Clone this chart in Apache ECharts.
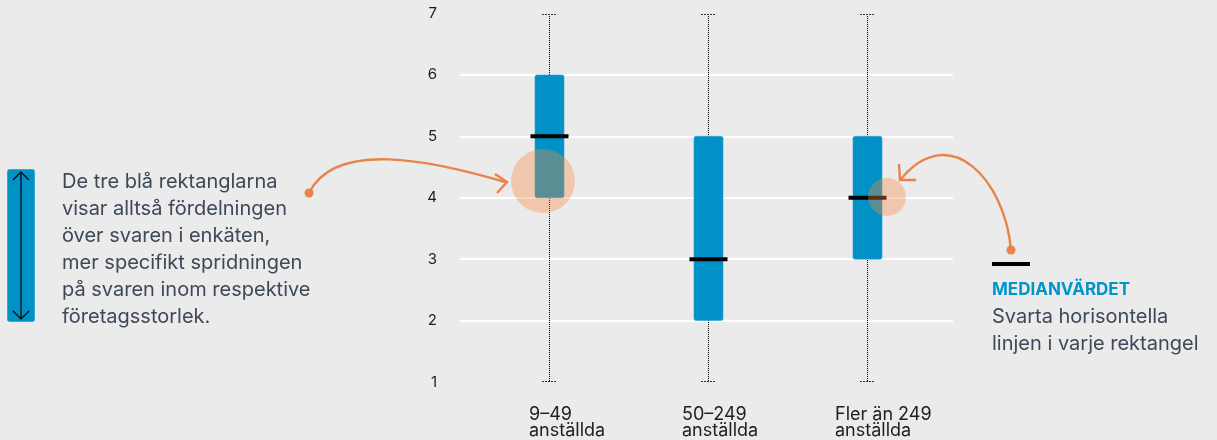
<!DOCTYPE html>
<html>
<head>
<meta charset="utf-8">
<script src="https://cdn.jsdelivr.net/npm/echarts@6/dist/echarts.min.js"></script>
<style>
  html, body { margin: 0; padding: 0; background: #ebebeb; }
  #chart { width: 1217px; height: 440px; }
</style>
</head>
<body>
<div id="chart"></div>
<script>
// ---- Data ----
const categories = ['9–49\nanställda', '50–249\nanställda', 'Fler än 249\nanställda'];
const minVals    = [1, 1, 1];
const q1Vals     = [4, 2, 3];
const medianVals = [5, 3, 4];
const q3Vals     = [6, 5, 5];
const maxVals    = [7, 7, 7];
const yTicks     = [1, 2, 3, 4, 5, 6, 7];

const leftNote  = ['De tre blå rektanglarna', 'visar alltså fördelningen', 'över svaren i enkäten,', 'mer specifikt spridningen', 'på svaren inom respektive', 'företagsstorlek.'];
const rightTitle = 'MEDIANVÄRDET';
const rightNote  = ['Svarta horisontella', 'linjen i varje rektangel'];

// ---- Styles ----
const BG = '#ebebeb';
const BLUE = '#0092c6';
const ORANGE = '#e8834a';
const HILITE = 'rgba(249,135,65,0.36)';
const TEXT = '#3d4858';
const FONT = 'Inter, Roboto, "Noto Sans", sans-serif';

const boxData = categories.map((c, i) => [i, minVals[i], q1Vals[i], medianVals[i], q3Vals[i], maxVals[i]]);

const chart = echarts.init(document.getElementById('chart'), null, { renderer: 'canvas' });

const yMin = yTicks[0], yMax = yTicks[yTicks.length - 1];
const splitColors = yTicks.map(v => (v === yMin || v === yMax) ? 'rgba(0,0,0,0)' : '#ffffff');

function renderBox(params, api) {
  const idx = api.value(0);
  const pMin = api.coord([idx, api.value(1)]);
  const pQ1 = api.coord([idx, api.value(2)]);
  const pMed = api.coord([idx, api.value(3)]);
  const pQ3 = api.coord([idx, api.value(4)]);
  const pMax = api.coord([idx, api.value(5)]);
  const cx = Math.round(pMin[0]) + 0.5;
  const yTop = Math.round(pMax[1]);
  const yBot = Math.round(pMin[1]);
  const boxW = 29, medW = 38, capW = 15;
  return {
    type: 'group',
    children: [
      { type: 'line', shape: { x1: cx, y1: yTop, x2: cx, y2: yBot },
        style: { stroke: '#000', lineWidth: 1, lineDash: [1, 1] } },
      { type: 'line', shape: { x1: Math.round(cx - capW / 2), y1: yTop + 0.5, x2: Math.round(cx + capW / 2), y2: yTop + 0.5 },
        style: { stroke: '#333', lineWidth: 1, lineDash: [2, 1] } },
      { type: 'line', shape: { x1: Math.round(cx - capW / 2), y1: yBot - 0.5, x2: Math.round(cx + capW / 2), y2: yBot - 0.5 },
        style: { stroke: '#333', lineWidth: 1, lineDash: [2, 1] } },
      { type: 'rect', shape: { x: cx - boxW / 2, y: pQ3[1], width: boxW, height: pQ1[1] - pQ3[1], r: 2 },
        style: { fill: BLUE, stroke: '#2aa2cf', lineWidth: 0.6 } },
      { type: 'rect', shape: { x: cx - medW / 2, y: pMed[1] - 2, width: medW, height: 4 },
        style: { fill: '#000' } }
    ]
  };
}

const option = {
  backgroundColor: BG,
  animation: false,
  grid: [
    { left: 460, right: 264, top: 13.5, bottom: 58 },   // gridlines + y labels
    { left: 470, right: 271, top: 13.5, bottom: 58 },   // boxes
    { left: 452.5, right: 305.5, top: 13.5, bottom: 58 } // x labels
  ],
  xAxis: [
    { gridIndex: 0, type: 'value', show: false },
    { gridIndex: 1, type: 'category', data: categories, boundaryGap: true, show: false },
    { gridIndex: 2, type: 'category', data: categories, boundaryGap: true,
      axisLine: { show: false }, axisTick: { show: false },
      axisLabel: { align: 'left', margin: 29, fontSize: 18, lineHeight: 16, color: '#1e1e1e', fontFamily: FONT, interval: 0 } }
  ],
  yAxis: [
    { gridIndex: 0, type: 'value', min: yMin, max: yMax, interval: 1,
      axisLine: { show: false }, axisTick: { show: false },
      axisLabel: { margin: 23, fontSize: 15, color: '#1e1e1e', fontFamily: FONT },
      splitLine: { show: true, lineStyle: { color: splitColors, width: 2 } } },
    { gridIndex: 1, type: 'value', min: yMin, max: yMax, interval: 1, show: false, splitLine: { show: false } },
    { gridIndex: 2, type: 'value', min: yMin, max: yMax, interval: 1, show: false, splitLine: { show: false } }
  ],
  series: [
    { type: 'custom', xAxisIndex: 1, yAxisIndex: 1, data: boxData, renderItem: renderBox, z: 3, clip: false }
  ],
  graphic: [
    // left legend icon
    { type: 'rect', shape: { x: 7.5, y: 169.5, width: 27, height: 152, r: 2 }, style: { fill: BLUE, stroke: '#35a8d3', lineWidth: 1 }, z: 10 },
    { type: 'line', shape: { x1: 21, y1: 172, x2: 21, y2: 319 }, style: { stroke: '#000', lineWidth: 1.2 }, z: 11 },
    { type: 'polyline', shape: { points: [[13, 180], [21, 172], [29, 180]] }, style: { stroke: '#000', lineWidth: 1.2, fill: null }, z: 11 },
    { type: 'polyline', shape: { points: [[13, 311], [21, 319], [29, 311]] }, style: { stroke: '#000', lineWidth: 1.2, fill: null }, z: 11 },
    { type: 'text', x: 62, y: 168, style: { text: leftNote.join('\n'), font: '20px ' + FONT, fill: TEXT, lineHeight: 27, verticalAlign: 'top' }, z: 10 },
    // left annotation arrow
    { type: 'bezierCurve', shape: { x1: 309, y1: 193, cpx1: 335, cpy1: 140, cpx2: 430, cpy2: 160, x2: 505, y2: 182 },
      style: { stroke: ORANGE, lineWidth: 2.4, fill: null }, z: 20 },
    { type: 'circle', shape: { cx: 309, cy: 193, r: 4.5 }, style: { fill: ORANGE }, z: 20 },
    { type: 'polyline', shape: { points: [[495, 174], [507, 182], [497, 193]] }, style: { stroke: ORANGE, lineWidth: 2.4, fill: null }, z: 20 },
    { type: 'circle', shape: { cx: 543, cy: 181, r: 32 }, style: { fill: HILITE }, z: 20 },
    // right annotation arrow
    { type: 'bezierCurve', shape: { x1: 1011, y1: 250, cpx1: 1005, cpy1: 180, cpx2: 950, cpy2: 120, x2: 901, y2: 179 },
      style: { stroke: ORANGE, lineWidth: 2.4, fill: null }, z: 20 },
    { type: 'circle', shape: { cx: 1011, cy: 250, r: 4.5 }, style: { fill: ORANGE }, z: 20 },
    { type: 'polyline', shape: { points: [[899, 164], [900, 180], [916, 180]] }, style: { stroke: ORANGE, lineWidth: 2.4, fill: null }, z: 20 },
    { type: 'circle', shape: { cx: 887, cy: 197, r: 19 }, style: { fill: HILITE }, z: 20 },
    // median legend
    { type: 'rect', shape: { x: 992, y: 262, width: 38, height: 4 }, style: { fill: '#000' }, z: 10 },
    { type: 'text', x: 992, y: 290, style: { text: rightTitle, font: 'bold 17px ' + FONT, fill: '#0095c8', verticalAlign: 'middle' }, z: 10 },
    { type: 'text', x: 992, y: 303, style: { text: rightNote.join('\n'), font: '20px ' + FONT, fill: TEXT, lineHeight: 27, verticalAlign: 'top' }, z: 10 }
  ]
};

chart.setOption(option);
</script>
</body>
</html>
